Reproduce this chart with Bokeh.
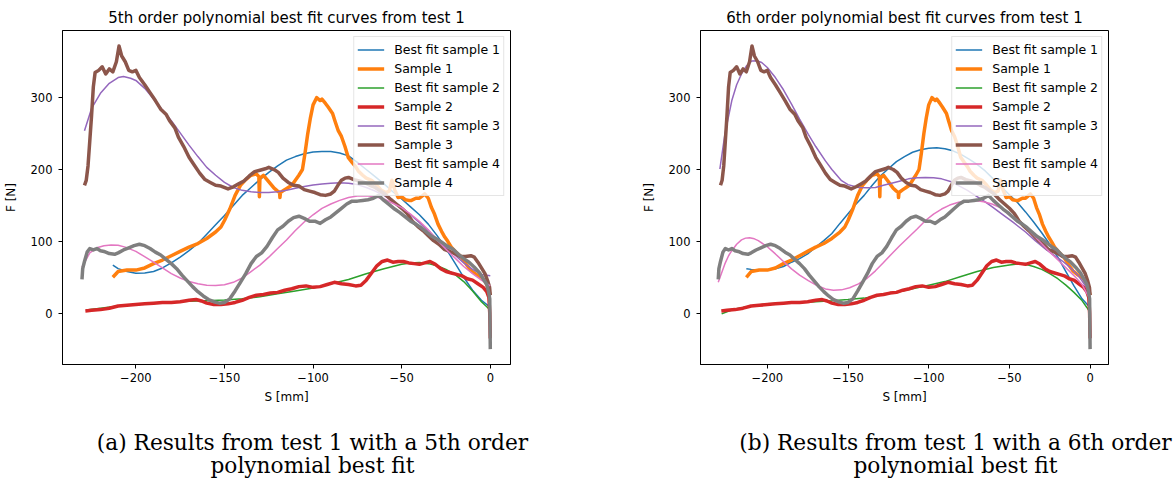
from bokeh.plotting import figure
from bokeh.models import Range1d, FixedTicker, Legend, LegendItem
from bokeh.layouts import row, column
from bokeh.core.properties import value
from bokeh.embed import file_html
from bokeh.resources import INLINE

# ---------------- data ----------------
S1_X = [-213, -210, -205, -200, -195, -190, -185, -180, -175, -170, -165, -160, -155, -152, -150, -147, -144, -141, -138, -135, -132, -130.6, -130.3, -130, -128, -126, -124, -122, -120, -118.9, -118.7, -118.4, -116, -114, -112, -110, -108, -106, -104.6, -103, -101.5, -100, -98, -96, -95, -93, -91.5, -89, -87.7, -85.8, -84, -82, -80.2, -78, -76, -74.5, -72, -70, -67, -64, -61.4, -59, -57, -55.5, -54, -52, -50, -48, -46, -44.5, -42, -40, -38, -37, -35, -33.2, -31.5, -29.5, -27.5, -25.7, -24, -22, -19, -16.3, -13.5, -10.7, -8, -5, -3, -1.3, -0.4, 0]
S1_Y = [50, 58, 60, 60, 63, 69, 74, 80, 86, 92, 97, 104, 113, 120, 129, 145, 164, 178, 186, 192, 194, 190, 162, 188, 192, 186, 180, 174, 170, 168, 161, 168, 172, 175, 178, 185, 192, 200, 222, 250, 272, 290, 300, 296, 298, 292, 287, 278, 268, 254, 246, 232, 217, 210, 204, 198, 192, 188, 185, 178, 171, 168, 170, 185, 172, 161, 162, 158, 157, 157, 160, 160, 164, 166, 160, 147, 138, 124, 114, 106, 100, 92, 84, 78, 68, 59, 54, 50, 45, 36, 28, 25]

S2_X = [-228.5, -225, -220, -215, -210, -205, -200, -195, -190, -185, -180, -175, -170, -166, -163, -160, -156, -152, -148, -144, -140, -136, -132, -128, -124, -120, -116, -112, -108, -104, -100, -96, -92, -88, -84, -80, -76, -73, -70, -67, -64, -61, -58, -55, -52, -49, -46, -43, -40, -37, -34, -31, -28, -25, -22, -19, -16, -13, -10, -7, -4, -2, -0.8, -0.3, 0]
S2_Y = [3, 4, 5, 7, 10, 11, 12, 13, 14, 15, 15, 16, 18, 19, 17, 14, 12, 12, 13, 15, 18, 22, 25, 26, 28, 29, 32, 34, 37, 38, 36, 37, 40, 43, 41, 40, 38, 39, 46, 56, 66, 72, 74, 71, 72, 72, 70, 69, 68, 70, 72, 68, 62, 58, 56, 54, 52, 48, 46, 41, 36, 30, 22, 0, -35]

S3_X = [-229, -228, -227, -226, -225, -224, -223, -221, -219, -217, -215, -213, -211, -209.5, -208, -206, -204, -202, -200, -198, -195, -192, -189, -186, -183, -181, -178, -176, -173, -170, -167, -164, -161, -158, -155, -152, -148, -145, -142, -139, -136, -133, -130, -127, -125, -122, -119.6, -117, -114, -111, -108, -105, -102, -99, -96, -93, -90, -88, -86, -84, -82, -80, -77, -74, -71, -68, -65, -62, -59.5, -56, -53, -50, -47, -44, -41, -38, -35, -32, -29, -26, -23, -20, -17, -14, -11, -9, -7, -5, -3, -1.5, -0.4, 0]
S3_Y = [178, 185, 205, 240, 275, 315, 335, 338, 343, 333, 340, 336, 350, 372, 358, 350, 338, 336, 338, 328, 318, 307, 296, 284, 277, 268, 258, 245, 232, 217, 206, 195, 186, 182, 178, 177, 173, 176, 180, 184, 191, 197, 199, 201, 203, 200, 196, 188, 182, 178, 177, 172, 170, 168, 165, 164, 166, 170, 178, 185, 188, 189, 186, 184, 182, 178, 175, 170, 166, 158, 152, 146, 139, 128, 121, 115, 108, 101, 96, 89, 86, 83, 79, 79, 80, 78, 71, 63, 55, 45, 36, 25]

S4_X = [-230.4, -230, -229, -227.5, -226, -224, -222, -220, -218, -215, -212, -210, -207, -204, -201, -198, -195, -192, -189, -186, -183, -180, -177, -174, -171, -168, -165, -162, -159, -156, -153, -150, -147, -144, -141, -138, -135, -132, -129, -126, -123, -120, -117, -114, -111, -108, -105, -102, -99, -96, -93, -90, -87, -84, -81, -78, -75, -72, -69, -66, -63, -60, -57, -54, -51, -48, -45, -42, -39, -36, -33, -30, -27, -24, -21, -18, -15, -12, -9, -6, -4, -2, -1, -0.3, 0]
S4_Y = [47, 62, 72, 85, 90, 88, 90, 87, 86, 83, 82, 84, 88, 91, 94, 96, 94, 90, 85, 81, 75, 69, 62, 53, 45, 37, 30, 24, 19, 16, 14, 15, 20, 31, 43, 55, 69, 79, 84, 93, 105, 116, 121, 128, 133, 135, 132, 128, 128, 125, 130, 134, 140, 146, 152, 156, 156, 157, 158, 160, 164, 157, 151, 145, 140, 134, 128, 124, 119, 113, 107, 103, 98, 93, 89, 82, 76, 71, 64, 56, 48, 40, 30, 20, -50]

# 5th order fits (left panel)
F1A_X = [-213, -210, -205, -200, -195, -190, -185, -180, -175, -170, -165, -160, -155, -150, -145, -140, -135, -130, -125, -120, -115, -110, -105, -100, -95, -90, -85, -80, -75, -70, -65, -60, -55, -50, -45, -40, -35, -30, -25, -20, -15, -10, -5, 0]
F1A_Y = [67, 62, 58, 55.5, 56, 58, 63, 70, 78, 87, 97, 110, 123, 136, 150, 164, 175, 186, 196, 205, 213, 218, 222, 224.5, 225, 225, 223, 219, 210, 200, 190, 180, 169, 159, 148, 137, 124, 108, 90, 70, 50, 32, 18, 8]
F2A_X = [-228, -220, -210, -200, -190, -180, -170, -160, -150, -140, -130, -120, -110, -100, -90, -80, -70, -60, -50, -45, -40, -35, -30, -25, -20, -15, -10, -5, -2, 0]
F2A_Y = [4.5, 7, 10, 12, 14, 15.5, 16.5, 17.5, 18.5, 20, 23, 27, 31, 35, 41, 47, 55, 62, 68, 70, 70.5, 69, 66, 61, 54, 44, 31, 16, 9, 4]
F3A_X = [-229, -225, -220, -215, -210, -207, -203, -200, -195, -190, -185, -180, -175, -170, -165, -160, -155, -150, -145, -140, -135, -130, -125, -120, -115, -110, -105, -100, -95, -90, -85, -80, -75, -70, -65, -60, -55, -50, -45, -40, -35, -30, -25, -20, -15, -10, -5, 0]
F3A_Y = [254, 285, 306, 320, 328, 329.5, 327, 324, 313, 298, 283, 268, 251, 234, 218, 203, 192, 182, 175, 171, 169, 168, 168, 169, 171, 174, 176.5, 178.5, 180, 181, 181.5, 181, 179, 175, 170, 164, 156, 147, 137, 126, 115, 103, 92, 81, 70, 61, 54, 52]
F4A_X = [-230.4, -228, -226, -222, -218, -214, -210, -206, -200, -196, -190, -185, -180, -175, -170, -165, -160, -155, -150, -145, -140, -135, -130, -125, -120, -115, -110, -105, -100, -95, -90, -85, -80, -75, -70, -65, -60, -55, -50, -45, -40, -35, -30, -25, -20, -15, -10, -5, 0]
F4A_Y = [64, 75, 84, 91, 94, 95, 94.5, 92, 86, 80, 71, 63, 55, 49, 44, 41, 39, 38.5, 39.5, 43, 49, 58, 67, 78, 90, 102, 115, 127, 137, 146, 152, 157, 161, 163, 163.5, 162, 159, 153, 147, 138, 128, 116, 102, 89, 77, 65, 55, 46, 38]

# 6th order fits (right panel)
F1B_X = [-213, -210, -205, -200, -195, -190, -185, -180, -175, -170, -165, -160, -155, -150, -145, -140, -135, -130, -125, -120, -115, -110, -105, -100, -95, -90, -85, -80, -75, -70, -65, -60, -55, -50, -45, -40, -35, -30, -25, -20, -15, -10, -5, 0]
F1B_Y = [62, 61, 60, 60, 62, 65, 71, 76, 82.5, 92, 101, 111, 125, 138.5, 152, 164, 178, 191, 201, 211, 218, 224, 227.5, 229.5, 230.4, 229, 226, 221, 214.5, 207, 198, 187, 176, 165, 154, 141, 127, 112, 96, 78, 58, 38, 20, 8]
F2B_X = [-228.3, -225, -220, -210, -200, -190, -180, -170, -160, -150, -140, -130, -120, -110, -100, -90, -80, -70, -60, -50, -45, -40, -35, -30, -25, -20, -15, -10, -5, -2, 0]
F2B_Y = [-1, 2, 6, 10, 13, 14, 15, 16, 17.3, 19, 21, 25, 29, 34, 39, 44, 51, 58, 63.5, 67, 68.5, 68, 65, 61, 55, 48, 39, 29, 17.6, 8, 1]
F3B_X = [-229.4, -226.3, -222, -219, -216, -213, -209.7, -206.5, -203.5, -200, -195, -190, -185, -180, -174.6, -170, -164, -160, -154, -150, -143.5, -138, -133, -128, -123, -117, -112.5, -107, -102, -97, -92, -86, -81.5, -76, -71, -65, -60, -54.6, -48, -40, -34, -27, -22, -17.4, -12, -8, -5, -2, 0]
F3B_Y = [200.7, 249, 296, 318, 333, 344, 351, 351.5, 349, 342, 328, 311, 291, 270, 249, 232, 212, 200, 184.5, 179, 175, 174.5, 175, 178, 181, 184.5, 187, 188.5, 189, 188.5, 187, 183, 177.5, 171, 163.6, 155, 147, 138, 127, 113, 101, 88, 80, 73, 63, 54, 45, 35, 27]
F4B_X = [-230.4, -228, -226.3, -224, -222, -219, -216, -213.5, -211, -208, -205.6, -200, -195, -190, -185, -180, -174.6, -170, -164, -159, -154, -149, -143.5, -138, -133, -128, -123, -118, -112.5, -107, -102, -97, -92, -87, -81.5, -76, -71, -66, -60.8, -55, -50.5, -45, -40, -35, -29.8, -25, -19.4, -14, -9, -5, -1.9, 0]
F4B_Y = [43, 58, 68.6, 80, 87, 96, 102, 104.5, 105, 103.5, 101, 92.5, 82.5, 72, 61.7, 53, 45.4, 39.5, 33.8, 32, 32.5, 35.5, 40.8, 49, 59, 70.5, 82.5, 94, 105.7, 117.5, 129, 138, 145, 150.5, 154.4, 156.3, 156.7, 155, 152, 146.5, 138, 129.5, 119.6, 108.5, 96.4, 85, 73, 61, 50, 40, 27, 20]

X_TICKS = [-200, -150, -100, -50, 0]
Y_TICKS = [0, 100, 200, 300]
LABELS = ["Best fit sample 1", "Sample 1", "Best fit sample 2", "Sample 2",
          "Best fit sample 3", "Sample 3", "Best fit sample 4", "Sample 4"]
COLORS = ["#1f77b4", "#ff7f0e", "#2ca02c", "#d62728",
          "#9467bd", "#8c564b", "#e377c2", "#7f7f7f"]
CAPTION_LINES = ["(a) Results from test 1 with a 5th order", "polynomial best fit",
                 "(b) Results from test 1 with a 6th order", "polynomial best fit"]

SAMPLES = [(S1_X, S1_Y), (S2_X, S2_Y), (S3_X, S3_Y), (S4_X, S4_Y)]
FITS_A = [(F1A_X, F1A_Y), (F2A_X, F2A_Y), (F3A_X, F3A_Y), (F4A_X, F4A_Y)]
FITS_B = [(F1B_X, F1B_Y), (F2B_X, F2B_Y), (F3B_X, F3B_Y), (F4B_X, F4B_Y)]


def make_panel(title, fits, frame_w, b_left, b_right):
    p = figure(frame_width=frame_w, frame_height=334,
               x_range=Range1d(-241.4, 11.4), y_range=Range1d(-71.4, 393.5),
               output_backend="svg", toolbar_location=None, title=title,
               min_border_left=b_left, min_border_right=b_right,
               min_border_top=30, min_border_bottom=50)
    p.background_fill_color = "white"
    p.border_fill_color = "white"
    p.outline_line_color = "black"
    p.outline_line_width = 1
    p.outline_line_alpha = 1
    p.xgrid.visible = False
    p.ygrid.visible = False
    p.title.text_font = "DejaVu Sans"
    p.title.text_font_size = "15px"
    p.title.text_font_style = "normal"
    p.title.align = "center"
    p.title.text_color = "black"
    p.title.standoff = 8

    p.xaxis.ticker = FixedTicker(ticks=X_TICKS)
    p.yaxis.ticker = FixedTicker(ticks=Y_TICKS)
    p.xaxis.major_label_overrides = {t: str(t).replace("-", "\u2212") for t in X_TICKS}
    for ax in (p.xaxis, p.yaxis):
        ax.axis_line_color = "black"
        ax.major_tick_line_color = "black"
        ax.major_tick_out = 4
        ax.major_tick_in = 0
        ax.minor_tick_line_color = None
        ax.major_label_text_font = "DejaVu Sans"
        ax.major_label_text_font_size = "11.5px"
        ax.major_label_text_color = "black"
        ax.axis_label_text_font = "DejaVu Sans"
        ax.axis_label_text_font_size = "12px"
        ax.axis_label_text_font_style = "normal"
        ax.axis_label_text_color = "black"
    p.xaxis.axis_label = "S [mm]"
    p.yaxis.axis_label = "F [N]"
    p.xaxis.major_label_standoff = 4
    p.yaxis.major_label_standoff = 6
    p.xaxis.axis_label_standoff = 5
    p.yaxis.axis_label_standoff = 10

    renderers = []
    for i in range(4):
        fx, fy = fits[i]
        sx, sy = SAMPLES[i]
        r_fit = p.line(fx, fy, line_color=COLORS[2 * i], line_width=1.5)
        r_s = p.line(sx, sy, line_color=COLORS[2 * i + 1], line_width=3.5,
                     line_join="round")
        renderers += [r_fit, r_s]

    items = [LegendItem(label=LABELS[k], renderers=[renderers[k]]) for k in range(8)]
    leg = Legend(items=items, location="top_right")
    leg.label_text_font = "DejaVu Sans"
    leg.label_text_font_size = "12.5px"
    leg.label_text_color = "black"
    leg.glyph_width = 27
    leg.glyph_height = 19
    leg.label_height = 19
    leg.label_standoff = 10
    leg.spacing = 0
    leg.padding = 3
    leg.margin = 6
    leg.border_line_color = "#cccccc"
    leg.border_line_width = 1
    leg.background_fill_alpha = 0.8
    p.add_layout(leg)
    return p


p1 = make_panel("5th order polynomial best fit curves from test 1", FITS_A, 448, 61, 119)
p2 = make_panel("6th order polynomial best fit curves from test 1", FITS_B, 408, 71, 69)

# caption strip (x/y in pixels of this strip, y measured from its top)
cap = figure(width=1176, height=70, x_range=Range1d(0, 1176), y_range=Range1d(70, 0),
             output_backend="svg", toolbar_location=None,
             min_border=0, min_border_left=0, min_border_right=0,
             min_border_top=0, min_border_bottom=0)
cap.axis.visible = False
cap.grid.visible = False
cap.outline_line_color = None
cap.background_fill_color = "white"
cap.border_fill_color = "white"
cap.text(x=[312, 312, 955, 955], y=[27.5, 51, 27.5, 51], text=CAPTION_LINES,
         text_font=value("DejaVu Serif"), text_font_size="21.7px",
         text_align="center", text_baseline="middle", text_color="black")

lay = column(row(p1, p2, spacing=0), cap, spacing=0)
html = file_html(lay, INLINE)
open("out.html", "w").write(html)
